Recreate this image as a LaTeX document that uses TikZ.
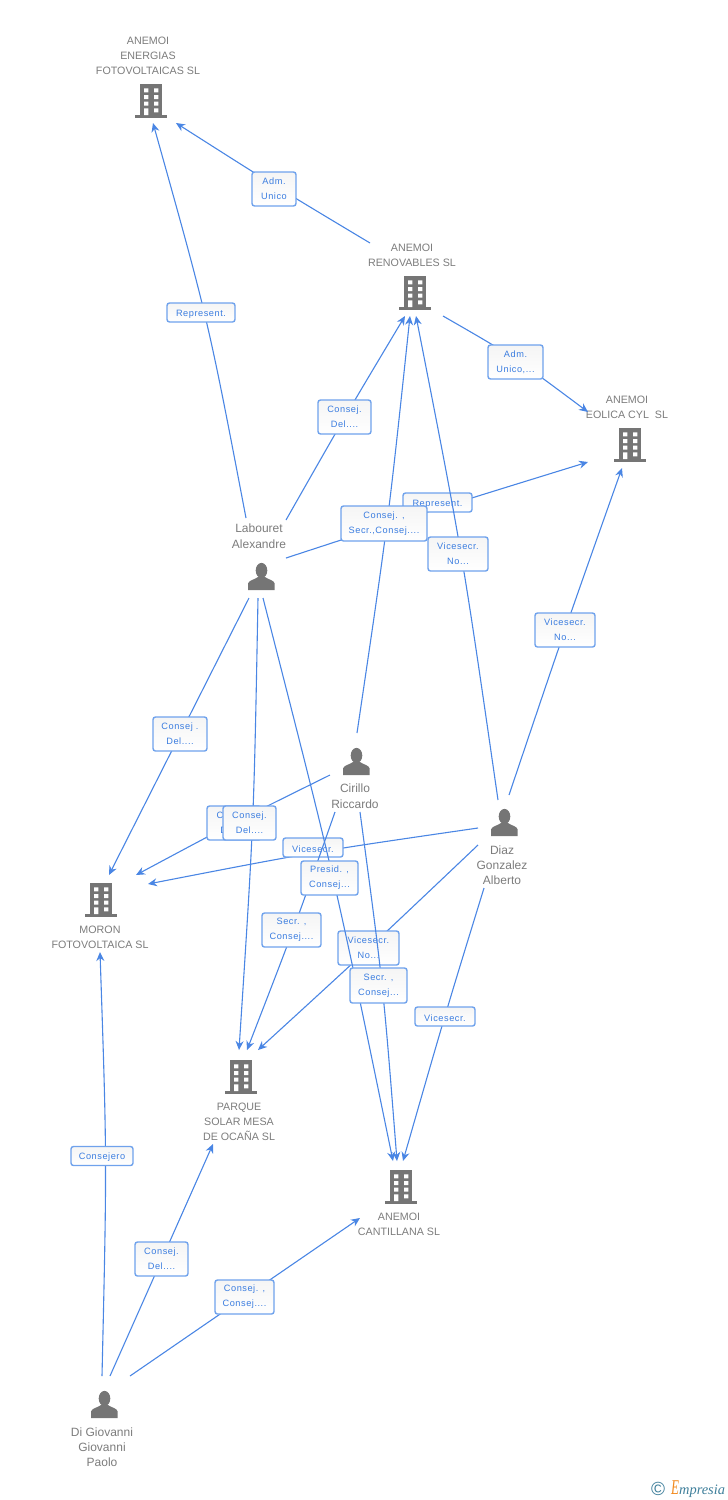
\documentclass[tikz,border=0pt]{standalone}
\usepackage{fontspec}
\setmainfont{Liberation Sans}
\newfontfamily\boxfont[LetterSpace=6]{Liberation Sans}
\newfontfamily\logofont{Liberation Serif}
\usetikzlibrary{arrows.meta,calc}
\definecolor{edgeblue}{HTML}{4A86E4}
\definecolor{boxline}{HTML}{6FA2EC}
\definecolor{boxtext}{HTML}{3B7DE0}
\definecolor{icongray}{HTML}{757575}
\definecolor{textgray}{HTML}{7C7C7C}
\definecolor{logoteal}{HTML}{3F7F9B}
\definecolor{logoorange}{HTML}{F28A1E}
\tikzset{
  edgeline/.style={draw=edgeblue,line width=1.1pt,-{Stealth[length=9pt,width=8pt]}},
  lab/.style={rectangle,rounded corners=2.5pt,draw=boxline,line width=1.4pt,top color=black!4,bottom color=white,
    inner sep=0pt,text=boxtext,align=center,font=\boxfont\fontsize{9.2}{15}\selectfont,
    execute at begin node={\rule{0pt}{9.4pt}}},
  dbl/.style={lab,minimum height=34pt},
  sgl/.style={lab,minimum height=19pt},
  bname/.style={inner sep=0pt,text=textgray,align=center,font=\fontsize{10.7}{15}\selectfont},
  pname/.style={bname,font=\fontsize{12}{16}\selectfont},
  pnameb/.style={bname,font=\fontsize{12}{15}\selectfont},
  iconhold/.style={inner sep=0pt,minimum size=26pt},
  pics/building/.style={code={
    \fill[icongray] (-11,-17) rectangle (11,14);
    \fill[icongray] (-15.8,14) rectangle (16,16.7);
    \fill[white] (-7,-12.7) rectangle (-2.7,-8.7) (3,-12.7) rectangle (7.3,-8.7)
                 (-7,-6) rectangle (-2.7,-2) (3,-6) rectangle (7.3,-2)
                 (-7,0.7) rectangle (-2.7,4.7) (3,0.7) rectangle (7.3,4.7)
                 (-7,7.3) rectangle (-2.7,14) (3,7.3) rectangle (7.3,11.3);
  }},
  pics/person/.style={code={
    \fill[icongray] (0.5,-6.5) ellipse (5.8 and 7.6);
    \fill[icongray] (-13,13) -- (-13,6.5) .. controls (-12,3) and (-6,2.5) .. (-3,0) -- (4,0)
      .. controls (7,2.5) and (13,3) .. (13.7,6.5) -- (13.7,13) -- cycle;
  }}
}
% \conn{a}{dx}{dy}{b}{dx}{dy}{through x}{through y}{style}
\newcommand\conn[9]{%
  \coordinate (ca) at ([shift={(#2,#3)}]#1.center);
  \coordinate (cb) at ([shift={(#5,#6)}]#4.center);
  \coordinate (cm) at (#7,#8);
  \draw[#9] (ca) .. controls ($1.3333*(cm)-0.16667*(ca)-0.16667*(cb)$) .. (cb);
}
\begin{document}
\begin{tikzpicture}[x=1pt,y=-1pt]
\useasboundingbox (0,0) rectangle (728,1500);
% icons
\node[iconhold] (bEner) at (151,101) {}; \pic at (bEner) {building};
\node[iconhold] (bRen) at (415,293) {}; \pic at (bRen) {building};
\node[iconhold] (bEol) at (630,445) {}; \pic at (bEol) {building};
\node[iconhold] (bMor) at (101,900) {}; \pic at (bMor) {building};
\node[iconhold] (bPar) at (241,1077) {}; \pic at (bPar) {building};
\node[iconhold] (bCan) at (401,1187) {}; \pic at (bCan) {building};
\node[iconhold] (pLab) at (261,577) {}; \pic at (pLab) {person};
\node[iconhold] (pCir) at (356,762) {}; \pic at (pCir) {person};
\node[iconhold] (pDia) at (504,823) {}; \pic at (pDia) {person};
\node[iconhold] (pGio) at (104,1405) {}; \pic at (pGio) {person};
% names
\node[bname] (tEner) at (148,56) {ANEMOI\\ENERGIAS\\FOTOVOLTAICAS SL};
\node[bname] (tRen) at (412,255) {ANEMOI\\RENOVABLES SL};
\node[bname] (tEol) at (627,407.5) {ANEMOI\\EOLICA CYL\ \ SL};
\node[pname] (tLab) at (259,536) {Labouret\\Alexandre};
\node[pname] (tCir) at (355,796) {Cirillo\\Riccardo};
\node[pnameb] (tDia) at (502,865) {Diaz\\Gonzalez\\Alberto};
\node[bname] (tMor) at (100,937.5) {MORON\\FOTOVOLTAICA SL};
\node[bname] (tPar) at (239,1122) {PARQUE\\SOLAR MESA\\DE OCAÑA SL};
\node[bname] (tCan) at (399,1224.5) {ANEMOI\\CANTILLANA SL};
\node[pnameb] (tGio) at (102,1447.5) {Di Giovanni\\Giovanni\\Paolo};
% connectors and their labels, in stacking order
\conn{pLab}{-15}{-59}{bEner}{2}{22}{206}{320}{edgeline}
\node[sgl,minimum width=68pt] (l1) at (201,312.5) {Represent.};
\conn{bRen}{-45}{-50}{bEner}{25}{22}{274}{185}{edgeline}
\node[dbl,minimum width=44pt] (l2) at (274,189) {Adm.\\Unico};
\conn{bRen}{28}{23}{bEol}{-42}{-33}{515}{359}{edgeline}
\node[dbl,minimum width=55pt] (l3) at (515.5,362) {Adm.\\Unico,...};
\conn{pLab}{25}{-57}{bRen}{-10}{23}{345}{417}{edgeline}
\node[dbl,minimum width=53pt] (l4) at (344.5,417) {Consej.\\Del....};
\conn{pLab}{25}{-19}{bEol}{-42}{17}{437}{509}{edgeline}
\node[sgl,minimum width=69pt] (l5) at (437.5,502.5) {Represent.};
\conn{pCir}{1}{-29}{bRen}{-5}{23}{387}{523}{edgeline}
\node[dbl,minimum width=86pt,minimum height=35pt] (l6) at (384,523.5) {Consej. ,\\Secr.,Consej....};
\conn{pDia}{-6}{-23}{bRen}{1}{23}{461}{554}{edgeline}
\node[dbl,minimum width=60pt] (l7) at (458,554) {Vicesecr.\\No...};
\conn{pDia}{5}{-28}{bEol}{-8}{23}{565}{630}{edgeline}
\node[dbl,minimum width=60pt] (l8) at (565,630) {Vicesecr.\\No...};
\conn{pLab}{-12}{21}{bMor}{8}{-25}{180}{734}{edgeline}
\node[dbl,minimum width=54pt] (l9) at (180,734) {Consej .\\Del....};
\conn{pCir}{-26}{13}{bMor}{35}{-25}{236}{822}{edgeline}
\node[dbl,minimum width=54pt] (l10) at (234,823) {Consej.\\Del....};
\conn{pLab}{-3}{21}{bPar}{-2}{-27}{252.5}{823}{edgeline}
\node[dbl,minimum width=53pt] (l11) at (249.5,823) {Consej.\\Del....};
\conn{pDia}{-26}{5}{bMor}{47}{-16}{313}{853}{edgeline}
\node[sgl,minimum width=60pt] (l12) at (313,847.5) {Vicesecr.};
\conn{pDia}{-26}{22}{bPar}{17}{-27}{369}{948}{edgeline}
\node[dbl,minimum width=61pt] (l13) at (368.5,948) {Vicesecr.\\No...};
\conn{pCir}{-21}{50}{bPar}{6}{-27}{293}{930}{edgeline}
\node[dbl,minimum width=59pt] (l14) at (291.5,930) {Secr. ,\\Consej....};
\conn{pLab}{2}{21}{bCan}{-8}{-26}{333}{878}{edgeline}
\node[dbl,minimum width=57pt] (l15) at (329.5,878) {Presid. ,\\Consej...};
\conn{pCir}{4}{50}{bCan}{-4}{-26}{382}{985}{edgeline}
\node[dbl,minimum width=57pt,minimum height=35pt] (l16) at (378.5,985.5) {Secr. ,\\Consej...};
\conn{pDia}{-20}{65}{bCan}{2}{-26}{445}{1016}{edgeline}
\node[sgl,minimum width=60pt] (l17) at (445,1016.5) {Vicesecr.};
\conn{pGio}{-2}{-29}{bMor}{-1}{52}{105.5}{1160}{edgeline}
\node[sgl,minimum width=62pt] (l18) at (102,1156) {Consejero};
\conn{pGio}{6}{-29}{bPar}{-28}{67}{162}{1259}{edgeline}
\node[dbl,minimum width=53pt] (l19) at (161.5,1259) {Consej.\\Del....};
\conn{pGio}{26}{-29}{bCan}{-41}{31}{245}{1297}{edgeline}
\node[dbl,minimum width=59pt] (l20) at (244.5,1297) {Consej. ,\\Consej....};
% logo
\node[inner sep=0pt,text=logoteal,font=\fontsize{19}{19}\selectfont] (lgc) at (658,1489) {©};
\node[inner sep=0pt,anchor=base west,text=logoteal,font=\logofont\itshape\fontsize{14.4}{15}\selectfont] (lgt) at (671,1494) {{\color{logoorange}\scalebox{0.62}[1]{\fontsize{21}{21}\selectfont E}}mpresia};
\end{tikzpicture}
\end{document}
